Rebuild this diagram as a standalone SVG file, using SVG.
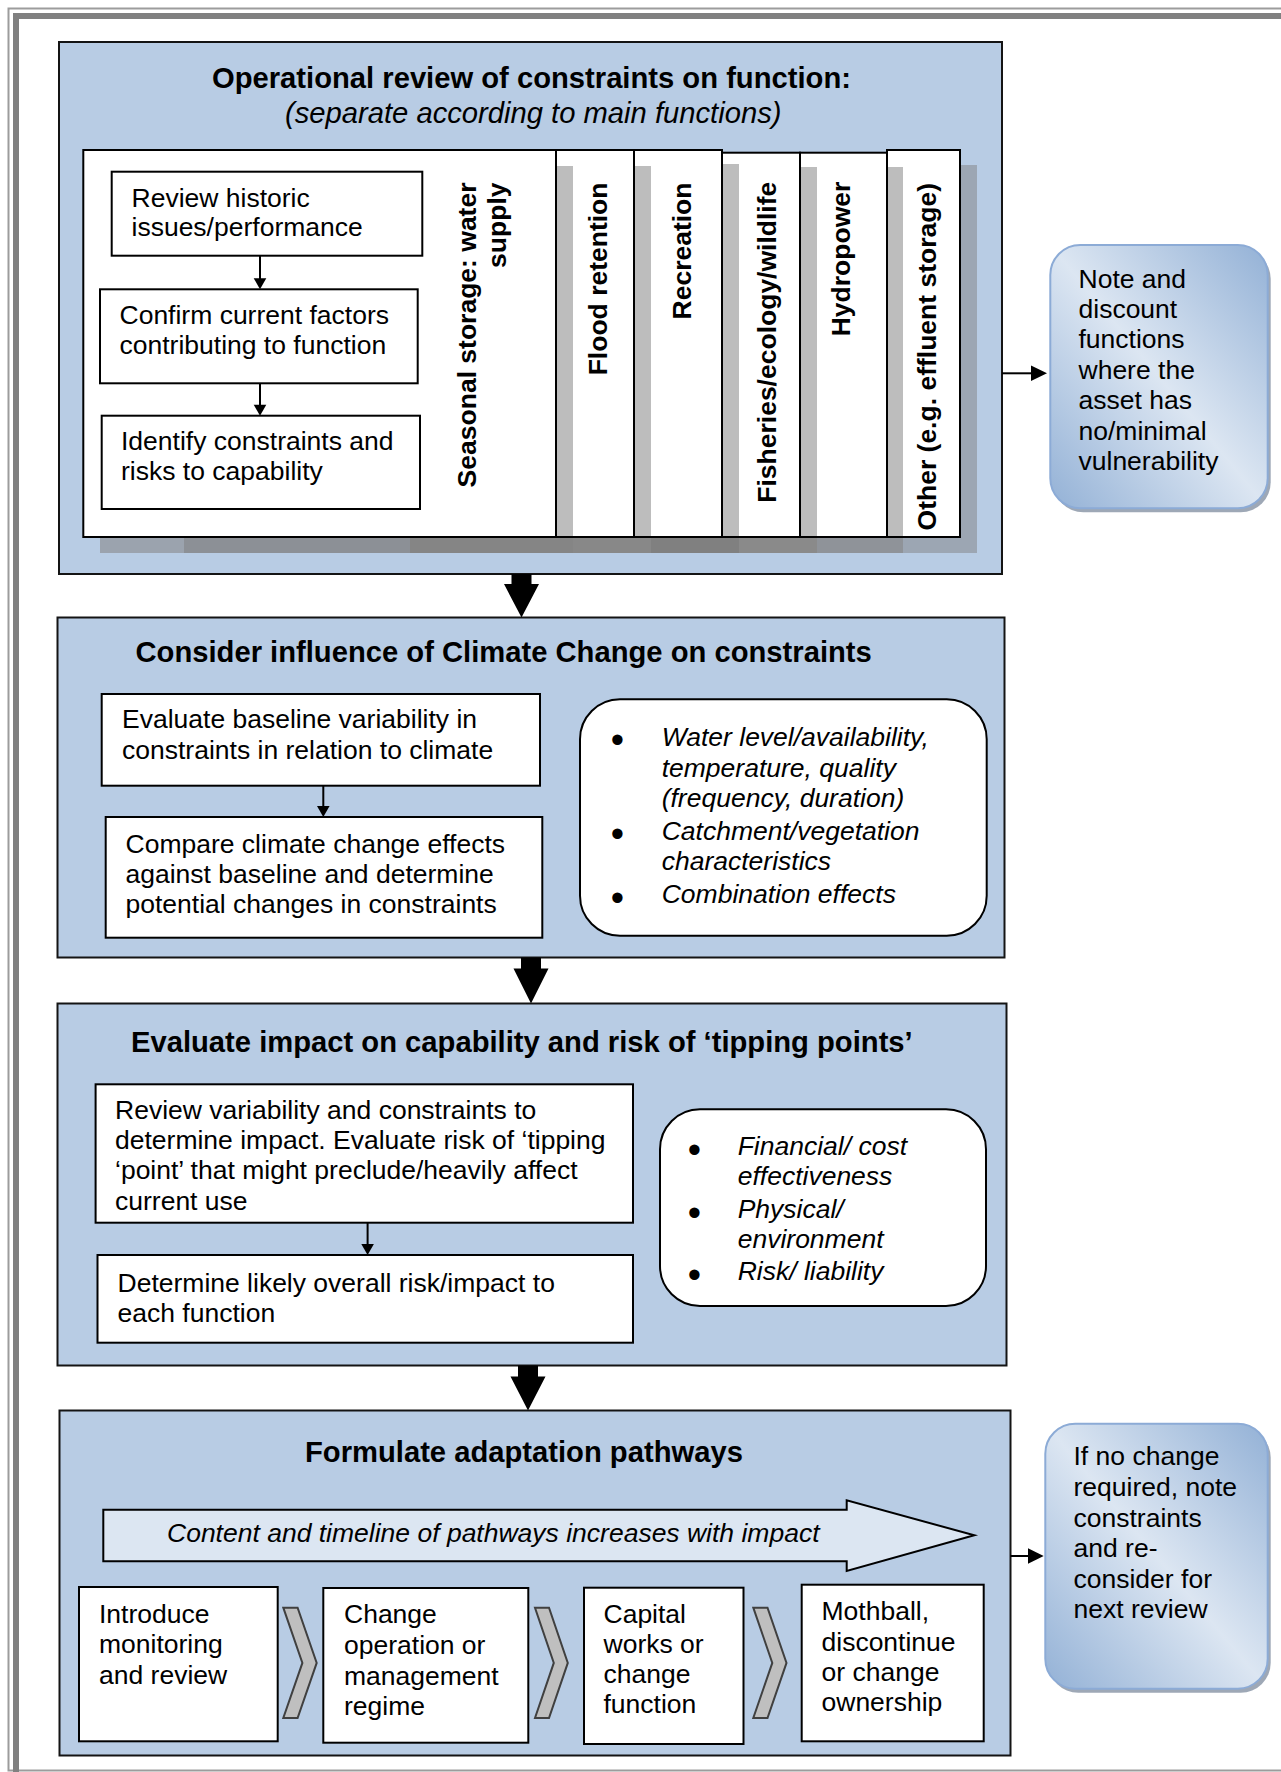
<svg xmlns="http://www.w3.org/2000/svg" width="1281" height="1772" viewBox="0 0 1281 1772">
<defs>
<linearGradient id="ng" x1="1" y1="0" x2="0" y2="1">
<stop offset="0" stop-color="#93b1d6"/>
<stop offset="0.5" stop-color="#dce6f2"/>
<stop offset="1" stop-color="#93b1d6"/>
</linearGradient>
</defs>
<style>
.panel{fill:#b8cce4;stroke:#141414;stroke-width:2}
.box{fill:#fff;stroke:#000;stroke-width:2}
.col{fill:#fff;stroke:#000;stroke-width:2}
.strip{fill:#bdbdbd}
.note{fill:url(#ng);stroke:#8cabd6;stroke-width:2}
.nshadow{fill:#9ea8b6}
.chev{fill:#bfbfbf;stroke:#404040;stroke-width:2}
.big{fill:#dce6f2;stroke:#000;stroke-width:2}
.t{font-family:"Liberation Sans",Arial,sans-serif;font-size:26.5px;fill:#000}
.h{font-size:29.2px;font-weight:bold}
.b{font-weight:bold}
.i{font-style:italic}
.bul{font-family:"Liberation Sans",Arial,sans-serif;font-size:38px;fill:#000;text-anchor:middle}
.ln{stroke:#000;stroke-width:2;fill:none}
.ah{fill:#000}
</style>

<g id="frame">
<rect x="8.5" y="8.5" width="1300" height="1762" fill="none" stroke="#9c9c9c" stroke-width="2"/>
<rect x="16" y="16" width="1300" height="1800" fill="none" stroke="#808080" stroke-width="6"/>
</g>

<g id="panel1">
<rect class="panel" x="59" y="42" width="943" height="532"/>
<text class="t h" x="212" y="88.3">Operational review of constraints on function:</text>
<text class="t i" x="285" y="123" style="font-size:29.2px">(separate according to main functions)</text>
<g id="shadows1">
<rect x="960" y="165" width="17" height="388" fill="#9ca6b3"/>
<rect x="100" y="537" width="84" height="16" fill="#9ba3ae"/>
<rect x="184" y="537" width="226" height="16" fill="#8c9096"/>
<rect x="410" y="537" width="163" height="16" fill="#858585"/>
<rect x="573" y="537" width="78" height="16" fill="#888888"/>
<rect x="651" y="537" width="88" height="16" fill="#808080"/>
<rect x="739" y="537" width="78" height="16" fill="#8a8a8a"/>
<rect x="817" y="537" width="86" height="16" fill="#8f9399"/>
<rect x="903" y="537" width="74" height="16" fill="#9ca6b3"/>
</g>
<g id="col-other">
<rect class="col" x="887" y="150" width="73" height="387"/>
<rect class="strip" x="888" y="167" width="15" height="369"/>
<text class="t b" text-anchor="end" transform="translate(935.5,183) rotate(-90)">Other (e.g. effluent storage)</text>
</g>
<g id="col-hydro">
<rect class="col" x="800" y="152.7" width="87" height="384.3"/>
<rect class="strip" x="801" y="167" width="16" height="369"/>
<text class="t b" text-anchor="end" transform="translate(850,181.7) rotate(-90)">Hydropower</text>
</g>
<g id="col-fish">
<rect class="col" x="722" y="152.7" width="78" height="384.3"/>
<rect class="strip" x="723" y="164" width="16" height="372"/>
<text class="t b" text-anchor="end" transform="translate(775.5,181.7) rotate(-90)">Fisheries/ecology/wildlife</text>
</g>
<g id="col-rec">
<rect class="col" x="634" y="150" width="88" height="387"/>
<rect class="strip" x="635" y="166" width="16" height="370"/>
<text class="t b" text-anchor="end" transform="translate(690.5,182.5) rotate(-90)">Recreation</text>
</g>
<g id="col-flood">
<rect class="col" x="556" y="150" width="78" height="387"/>
<rect class="strip" x="557" y="166" width="16" height="370"/>
<text class="t b" text-anchor="end" transform="translate(606.5,182.5) rotate(-90)">Flood retention</text>
</g>
<g id="col-seasonal">
<rect class="col" x="83.3" y="150" width="472.7" height="387"/>
<text class="t b" text-anchor="end" transform="translate(475.8,182.5) rotate(-90)">Seasonal storage: water</text>
<text class="t b" text-anchor="end" transform="translate(505.8,182.5) rotate(-90)">supply</text>
</g>
<g id="review-historic">
<rect class="box" x="111.7" y="171.7" width="310.6" height="84"/>
<text class="t" x="131.5" y="206.5">Review historic</text>
<text class="t" x="131.5" y="236">issues/performance</text>
</g>
<g id="confirm-factors">
<rect class="box" x="100" y="289.3" width="317.7" height="94"/>
<text class="t" x="119.5" y="324">Confirm current factors</text>
<text class="t" x="119.5" y="354.3">contributing to function</text>
</g>
<g id="identify-constraints">
<rect class="box" x="101.7" y="415.7" width="318.3" height="93.3"/>
<text class="t" x="121" y="450">Identify constraints and</text>
<text class="t" x="121" y="480">risks to capability</text>
</g>
</g>

<g id="note1">
<rect class="nshadow" x="1053.3" y="249" width="217.4" height="263.3" rx="30"/>
<rect class="note" x="1050.3" y="245" width="217.4" height="263.3" rx="30"/>
<text class="t" x="1078.5" y="287.5">Note and</text>
<text class="t" x="1078.5" y="317.9">discount</text>
<text class="t" x="1078.5" y="348.3">functions</text>
<text class="t" x="1078.5" y="378.7">where the</text>
<text class="t" x="1078.5" y="409.1">asset has</text>
<text class="t" x="1078.5" y="439.5">no/minimal</text>
<text class="t" x="1078.5" y="469.9">vulnerability</text>
</g>

<g id="panel2">
<rect class="panel" x="57.5" y="617.5" width="947" height="340"/>
<text class="t h" x="135.5" y="661.7">Consider influence of Climate Change on constraints</text>
<g id="evaluate-baseline">
<rect class="box" x="101.7" y="694" width="438.3" height="91.7"/>
<text class="t" x="122" y="728.3">Evaluate baseline variability in</text>
<text class="t" x="122" y="759.3">constraints in relation to climate</text>
</g>
<g id="compare-effects">
<rect class="box" x="105.7" y="817" width="436.6" height="120.7"/>
<text class="t" x="125.5" y="853.3">Compare climate change effects</text>
<text class="t" x="125.5" y="883.3">against baseline and determine</text>
<text class="t" x="125.5" y="913.3">potential changes in constraints</text>
</g>
<g id="factors-list">
<rect class="box" x="580" y="699.3" width="406.7" height="236.4" rx="40"/>
<text class="bul" x="617.3" y="753">•</text>
<text class="bul" x="617.3" y="847">•</text>
<text class="bul" x="617.3" y="910.5">•</text>
<text class="t i" x="661.7" y="745.5">Water level/availability,</text>
<text class="t i" x="661.7" y="776.5">temperature, quality</text>
<text class="t i" x="661.7" y="807">(frequency, duration)</text>
<text class="t i" x="661.7" y="839.5">Catchment/vegetation</text>
<text class="t i" x="661.7" y="870">characteristics</text>
<text class="t i" x="661.7" y="903">Combination effects</text>
</g>
</g>

<g id="panel3">
<rect class="panel" x="57.5" y="1003.5" width="949" height="362"/>
<text class="t h" x="131" y="1051.7">Evaluate impact on capability and risk of ‘tipping points’</text>
<g id="review-variability">
<rect class="box" x="95.6" y="1084.3" width="537.4" height="138.4"/>
<text class="t" x="115" y="1118.5">Review variability and constraints to</text>
<text class="t" x="115" y="1148.7">determine impact. Evaluate risk of ‘tipping</text>
<text class="t" x="115" y="1179.3">‘point’ that might preclude/heavily affect</text>
<text class="t" x="115" y="1210">current use</text>
</g>
<g id="determine-risk">
<rect class="box" x="97.5" y="1255" width="535.5" height="87.7"/>
<text class="t" x="117.5" y="1291.5">Determine likely overall risk/impact to</text>
<text class="t" x="117.5" y="1322">each function</text>
</g>
<g id="criteria-list">
<rect class="box" x="660" y="1109.3" width="326" height="196.7" rx="40"/>
<text class="bul" x="694.4" y="1162.5">•</text>
<text class="bul" x="694.4" y="1225.5">•</text>
<text class="bul" x="694.4" y="1287.5">•</text>
<text class="t i" x="737.7" y="1155">Financial/ cost</text>
<text class="t i" x="737.7" y="1185">effectiveness</text>
<text class="t i" x="737.7" y="1218">Physical/</text>
<text class="t i" x="737.7" y="1248">environment</text>
<text class="t i" x="737.7" y="1280">Risk/ liability</text>
</g>
</g>

<g id="panel4">
<rect class="panel" x="59.5" y="1410.5" width="951" height="345"/>
<text class="t h" x="305" y="1462">Formulate adaptation pathways</text>
<g id="timeline-arrow">
<polygon class="big" points="103.3,1509.7 846.7,1509.7 846.7,1500.3 974.3,1535.3 846.7,1571 846.7,1561.3 103.3,1561.3"/>
<text class="t i" x="167" y="1542">Content and timeline of pathways increases with impact</text>
</g>
<g id="step1">
<rect class="box" x="79" y="1587" width="198.7" height="154.3"/>
<text class="t" x="99" y="1622.7">Introduce</text>
<text class="t" x="99" y="1653.3">monitoring</text>
<text class="t" x="99" y="1683.5">and review</text>
</g>
<g id="step2">
<rect class="box" x="323.3" y="1588" width="205" height="154.7"/>
<text class="t" x="344" y="1622.7">Change</text>
<text class="t" x="344" y="1653.5">operation or</text>
<text class="t" x="344" y="1685">management</text>
<text class="t" x="344" y="1715">regime</text>
</g>
<g id="step3">
<rect class="box" x="584" y="1587.7" width="159.5" height="156.3"/>
<text class="t" x="603.5" y="1622.7">Capital</text>
<text class="t" x="603.5" y="1652.7">works or</text>
<text class="t" x="603.5" y="1683.3">change</text>
<text class="t" x="603.5" y="1713.3">function</text>
</g>
<g id="step4">
<rect class="box" x="801.7" y="1584.7" width="182" height="156.6"/>
<text class="t" x="821.5" y="1620.3">Mothball,</text>
<text class="t" x="821.5" y="1651">discontinue</text>
<text class="t" x="821.5" y="1680.5">or change</text>
<text class="t" x="821.5" y="1711.3">ownership</text>
</g>
<g id="chevrons">
<polygon class="chev" points="283.3,1607.7 297.6,1607.7 316.7,1662.9 297.6,1718 283.3,1718 302.4,1662.9"/>
<polygon class="chev" points="535,1607.7 549,1607.7 567.8,1662.9 549,1718 535,1718 553.8,1662.9"/>
<polygon class="chev" points="753.3,1607.7 767.5,1607.7 786.5,1662.9 767.5,1718 753.3,1718 772.3,1662.9"/>
</g>
</g>

<g id="note2">
<rect class="nshadow" x="1048.3" y="1427.7" width="222.4" height="265" rx="30"/>
<rect class="note" x="1045.3" y="1423.7" width="222.4" height="265" rx="30"/>
<text class="t" x="1073.5" y="1465.3">If no change</text>
<text class="t" x="1073.5" y="1496">required, note</text>
<text class="t" x="1073.5" y="1526.6">constraints</text>
<text class="t" x="1073.5" y="1557.2">and re-</text>
<text class="t" x="1073.5" y="1587.8">consider for</text>
<text class="t" x="1073.5" y="1618.4">next review</text>
</g>

<g id="connectors">
<line class="ln" x1="260" y1="255.7" x2="260" y2="280"/>
<polygon class="ah" points="253.7,278.3 266.3,278.3 260,289.3"/>
<line class="ln" x1="260" y1="383.3" x2="260" y2="406"/>
<polygon class="ah" points="253.7,404.7 266.3,404.7 260,415.7"/>
<line class="ln" x1="323.3" y1="785.7" x2="323.3" y2="807"/>
<polygon class="ah" points="317,806 329.6,806 323.3,817"/>
<line class="ln" x1="367.6" y1="1222.7" x2="367.6" y2="1245"/>
<polygon class="ah" points="361.3,1244 373.9,1244 367.6,1255"/>
<line class="ln" x1="1002" y1="373.3" x2="1033" y2="373.3"/>
<polygon class="ah" points="1031,365.6 1047,373.3 1031,381"/>
<line class="ln" x1="1010.5" y1="1556" x2="1030" y2="1556"/>
<polygon class="ah" points="1028,1548.3 1043.7,1556 1028,1563.7"/>
<polygon class="ah" points="511.5,574 531.5,574 531.5,584 539,584 521.5,617.5 504,584 511.5,584"/>
<polygon class="ah" points="521,957.5 541,957.5 541,968.5 548.5,968.5 531,1003.5 513.5,968.5 521,968.5"/>
<polygon class="ah" points="518,1365.5 538,1365.5 538,1376.5 545.5,1376.5 528,1410.5 510.5,1376.5 518,1376.5"/>
</g>
</svg>
